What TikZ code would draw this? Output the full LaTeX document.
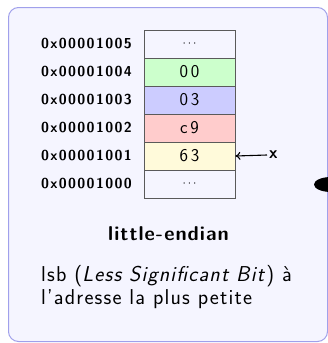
\documentclass[tikz,border=0pt]{standalone}
\usepackage{fontspec}
\usetikzlibrary{arrows.meta}
\definecolor{panelfill}{RGB}{245,245,255}
\definecolor{panelline}{RGB}{160,160,235}
\definecolor{cellline}{RGB}{90,90,90}
\definecolor{bytegreen}{RGB}{204,255,204}
\definecolor{byteblue}{RGB}{204,204,255}
\definecolor{bytered}{RGB}{255,204,204}
\definecolor{byteyellow}{RGB}{255,250,218}
% letter-spaced sans families
\newfontfamily\addrfam[LetterSpace=9.5]{Latin Modern Sans}
\newfontfamily\bytefam[LetterSpace=15]{Latin Modern Sans}
\newfontfamily\titlefam[LetterSpace=5]{Latin Modern Sans}
\newfontfamily\descfam[LetterSpace=5.5]{Latin Modern Sans}
\newcommand\addrfont{\addrfam\bfseries\fontsize{14.4}{16}\selectfont}
\newcommand\bytefont{\bytefam\fontsize{18}{20}\selectfont}
\newcommand\gapfont{\fontsize{13}{14}\selectfont}
\newcommand\titlefont{\titlefam\bfseries\fontsize{20}{24}\selectfont}
\newcommand\descfont{\descfam\fontsize{21.5}{22.7}\selectfont}
\begin{document}
\begin{tikzpicture}[x=1pt,y=-1pt,
  cell/.style={draw=cellline, line width=0.8pt, minimum width=91pt,
    minimum height=28pt, inner sep=0pt, font=\bytefont},
  addr/.style={anchor=east, font=\addrfont, inner sep=0pt},
  pointer/.style={-{To[length=5pt,width=8pt]}, line width=1.1pt}]
\useasboundingbox (0,0) rectangle (328,343);
% panel and the edge of the neighbouring arrow
\begin{scope}
  \clip (0,0) rectangle (328,343);
  \draw[panelline, fill=panelfill, line width=1pt, rounded corners=10pt]
    (8.5,7.5) rectangle (327.5,341.5);
  \fill (331,184.5) ellipse (17pt and 7.5pt);
\end{scope}
% memory cells
\node[cell] (c5) at (189.5,44) {\gapfont$\cdots$};
\node[cell, fill=bytegreen] (c4) at (189.5,72) {00};
\node[cell, fill=byteblue] (c3) at (189.5,100) {03};
\node[cell, fill=bytered] (c2) at (189.5,128) {c9};
\node[cell, fill=byteyellow] (c1) at (189.5,156) {63};
\node[cell] (c0) at (189.5,184) {\gapfont$\cdots$};
% addresses
\node[addr] (a5) at (132,44) {0x00001005};
\node[addr] (a4) at (132,72) {0x00001004};
\node[addr] (a3) at (132,100) {0x00001003};
\node[addr] (a2) at (132,128) {0x00001002};
\node[addr] (a1) at (132,156) {0x00001001};
\node[addr] (a0) at (132,184) {0x00001000};
% pointer x
\node[font=\sffamily\bfseries\fontsize{17}{17}\selectfont, anchor=west, inner sep=0pt] (xv) at (269,155) {x};
\draw[pointer] ([xshift=-2pt]xv.west) -- (c1.east);
% caption
\node[font=\titlefont, anchor=base] (title) at (168.5,240.7) {little-endian};
\node[anchor=base west, align=left, font=\descfont, inner sep=0pt] (desc) at (41,304.4)
  {lsb (\textit{Less Significant Bit}) à\\l’adresse la plus petite};
\end{tikzpicture}
\end{document}
